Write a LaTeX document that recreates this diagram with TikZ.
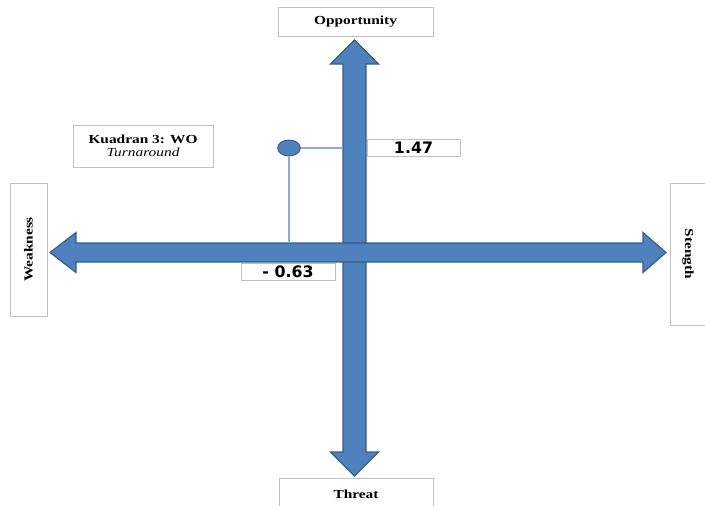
\documentclass[tikz,border=0pt]{standalone}
\usepackage{fontspec}
\setmainfont{Liberation Serif}
\newfontfamily\boxfont[FakeStretch=1.25]{Liberation Serif}
\newfontfamily\numfont{DejaVu Sans}
\usetikzlibrary{shapes.geometric}

\definecolor{arrowblue}{HTML}{4F81BD}
\definecolor{arrowedge}{HTML}{385D8A}
\definecolor{boxgray}{HTML}{BFBFBF}
\definecolor{linkblue}{HTML}{8EAADB}

\begin{document}
\begin{tikzpicture}[x=0.03cm, y=-0.03cm,
  labelbox/.style={draw=boxgray, fill=white, line width=0.8pt, inner sep=0pt,
    font=\boxfont\bfseries\fontsize{10.5}{12}\selectfont},
  valuebox/.style={draw=boxgray, fill=white, line width=0.8pt, inner sep=0pt,
    font=\numfont\bfseries\fontsize{13.5}{14}\selectfont},
  blockarrow/.style={fill=arrowblue, draw=arrowedge, line width=1pt, line join=miter},
  link/.style={draw=linkblue, line width=0.9pt}]
  \useasboundingbox (0,0) rectangle (705,505);
  \clip (0,0) rectangle (705,505);

  % sumbu vertikal (Opportunity - Threat)
  \draw[blockarrow] (354.5,40) -- (378.5,64) -- (366,64) -- (366,452) -- (378.5,452)
    -- (354.5,476) -- (330.5,452) -- (343,452) -- (343,64) -- (330.5,64) -- cycle;

  % sumbu horizontal (Weakness - Strength)
  \draw[blockarrow] (50,252.5) -- (76,232.5) -- (76,243) -- (643,243) -- (643,232.5)
    -- (666,252.5) -- (643,272.5) -- (643,262) -- (76,262) -- (76,272.5) -- cycle;

  \coordinate (vshaft) at (343,0);
  \coordinate (hshaft) at (0,243);

  % kotak label
  \node[labelbox, minimum width=4.65cm, minimum height=0.87cm] (opp) at (355.5,21.5) {Opportunity};
  \node[labelbox, minimum width=4.62cm, minimum height=0.96cm] (thr) at (356,494) {Threat};
  \node[labelbox, minimum width=1.11cm, minimum height=3.99cm] (weak) at (28.5,249.5) {};
  \node[rotate=90, font=\boxfont\bfseries\fontsize{10.5}{12}\selectfont] at (weak) {Weakness};
  \node[labelbox, minimum width=1.08cm, minimum height=4.26cm] (str) at (688,254) {};
  \node[rotate=-90, font=\boxfont\bfseries\fontsize{10.5}{12}\selectfont] at (str) {Stength};
  \node[labelbox, minimum width=4.2cm, minimum height=1.26cm, align=center] (quad) at (143,146)
    {Kuadran 3: WO\\[-1pt]{\mdseries\itshape Turnaround}};

  % titik posisi
  \node[ellipse, fill=arrowblue, draw=arrowedge, line width=0.8pt, inner sep=0pt,
    minimum width=0.68cm, minimum height=0.48cm] (pt) at (289,148) {};
  \draw[link] (pt.east) -- (pt.east -| vshaft);
  \draw[link] (pt.south) -- (pt.south |- hshaft);

  % nilai
  \node[valuebox, minimum width=2.79cm, minimum height=0.51cm] (ov) at (413.5,147.5) {1.47};
  \node[valuebox, minimum width=2.82cm, minimum height=0.51cm] (sw) at (288,271.5) {- 0.63};
\end{tikzpicture}
\end{document}
